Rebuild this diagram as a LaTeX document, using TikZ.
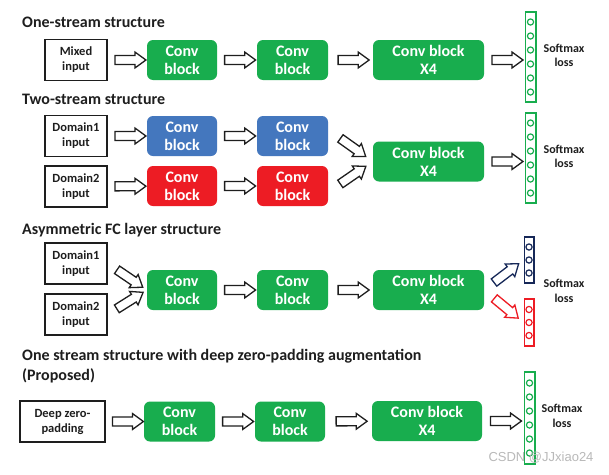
\documentclass[tikz,border=0pt]{standalone}
\usepackage{fontspec}
\setmainfont{Carlito}
\newfontfamily\wmfont{Liberation Sans}
\usetikzlibrary{shapes.arrows}
\definecolor{convgreen}{RGB}{24,173,78}
\definecolor{convblue}{RGB}{68,119,190}
\definecolor{convred}{RGB}{237,28,36}
\definecolor{fcnavy}{RGB}{22,40,88}
\definecolor{txt}{RGB}{30,30,30}
\tikzset{
  titel/.style={anchor=west, inner sep=0pt, text=txt, align=left,
    font=\bfseries\fontsize{16}{20}\selectfont},
  inbox/.style={draw=txt, line width=1.6pt, fill=white, minimum width=62pt,
    minimum height=41pt, inner sep=0pt, align=center, text=txt,
    font=\bfseries\fontsize{12.5}{15}\selectfont},
  conv/.style={fill=#1, rounded corners=6pt, minimum height=40pt, inner sep=0pt,
    align=center, text=white, font=\bfseries\fontsize{16}{18}\selectfont},
  fat/.style={single arrow, draw=txt, fill=white, line width=1.3pt,
    minimum height=31pt, minimum width=0pt, inner xsep=0pt, inner ysep=3.9pt,
    single arrow head extend=3.4pt, single arrow tip angle=72, sloped},
  fc/.style={draw=#1, line width=1.5pt, fill=white, minimum width=10.5pt, inner sep=0pt},
  neuron/.style={draw=#1, line width=1.2pt, fill=white},
  softmax/.style={text=txt, align=center, font=\bfseries\fontsize{12}{14.5}\selectfont}
}

\begin{document}
\begin{tikzpicture}[x=1pt, y=-1pt]

    \path[use as bounding box, fill=white] (0,0) rectangle (609,474);

    %One-stream
    \node[titel] (t1) at (22,22) {One-stream structure};
    \node[inbox] (in1) at (76,60) {Mixed\\input};
    \node[conv=convgreen, minimum width=70pt] (c11) at (182,60) {Conv\\block};
    \node[conv=convgreen, minimum width=71pt] (c12) at (292.5,60) {Conv\\block};
    \node[conv=convgreen, minimum width=111pt] (x1) at (428.5,60) {Conv block\\X4};
    \node[fc=convgreen, minimum height=90pt] (s1) at (530.5,57) {};
    \node[softmax] (l1) at (564,55.5) {Softmax\\loss};

    %Two-stream
    \node[titel] (t2) at (22,99) {Two-stream structure};
    \node[inbox] (in21) at (76,136) {Domain1\\input};
    \node[inbox] (in22) at (76,186.5) {Domain2\\input};
    \node[conv=convblue, minimum width=70pt] (b21) at (182,136) {Conv\\block};
    \node[conv=convblue, minimum width=71pt] (b22) at (292.5,136) {Conv\\block};
    \node[conv=convred, minimum width=70pt] (r21) at (182,186) {Conv\\block};
    \node[conv=convred, minimum width=71pt] (r22) at (292.5,186) {Conv\\block};
    \node[conv=convgreen, minimum width=111pt] (x2) at (428.5,161.5) {Conv block\\X4};
    \node[fc=convgreen, minimum height=90pt] (s2) at (530.5,158) {};
    \node[softmax] (l2) at (564,156.5) {Softmax\\loss};

    %Asymmetric FC
    \node[titel] (t3) at (22,230) {Asymmetric FC layer structure};
    \node[inbox] (in31) at (76,263.5) {Domain1\\input};
    \node[inbox] (in32) at (76,314.5) {Domain2\\input};
    \node[conv=convgreen, minimum width=70pt] (c31) at (182,290) {Conv\\block};
    \node[conv=convgreen, minimum width=71pt] (c32) at (292.5,290) {Conv\\block};
    \node[conv=convgreen, minimum width=111pt] (x3) at (428.5,290) {Conv block\\X4};
    \node[fc=fcnavy, minimum width=9.5pt, minimum height=46pt] (s31) at (529,260) {};
    \node[fc=convred, minimum width=9.5pt, minimum height=47pt] (s32) at (529,322.5) {};
    \node[softmax] (l3) at (564,291) {Softmax\\loss};

    %Proposed
    \node[titel] (t4) at (22,366)
        {One stream structure with deep zero-padding augmentation\\(Proposed)};
    \node[inbox, minimum width=85pt] (in4) at (62.5,421.5) {Deep zero-\\padding};
    \node[conv=convgreen, minimum width=71pt] (c41) at (179.5,421.5) {Conv\\block};
    \node[conv=convgreen, minimum width=70pt] (c42) at (290,421.5) {Conv\\block};
    \node[conv=convgreen, minimum width=110pt] (x4) at (427,421) {Conv block\\X4};
    \node[fc=convgreen, minimum height=92pt] (s4) at (529.5,418) {};
    \node[softmax] (l4) at (562,416) {Softmax\\loss};

    %Neurons
    \foreach \b in {s1,s2,s4}
        \foreach \k in {-35,-21,-7,7,21,35}
            \draw[neuron=convgreen] ([yshift=\k pt]\b.center) circle (3.1pt);
    \foreach \k in {-13,0,13}{
        \draw[neuron=fcnavy] ([yshift=\k pt]s31.center) circle (3.1pt);
        \draw[neuron=convred] ([yshift=\k pt]s32.center) circle (3.1pt);
    }

    %Arrows
    \path (in1) -- node[fat]{} (c11);
    \path (c11) -- node[fat]{} (c12);
    \path (c12) -- node[fat]{} (x1);
    \path (x1) -- node[fat]{} (x1 -| s1.west);

    \path (in21) -- node[fat]{} (b21);
    \path (b21) -- node[fat]{} (b22);
    \path (in22) -- node[fat]{} (r21);
    \path (r21) -- node[fat]{} (r22);
    \path (b22.10) -- node[fat]{} (x2.west);
    \path (r22.-10) -- node[fat]{} (x2.west);
    \path (x2) -- node[fat]{} (x2 -| s2.west);

    \path (in31.east) -- node[fat]{} (c31.west);
    \path (in32.east) -- node[fat]{} (c31.west);
    \path (c31) -- node[fat]{} (c32);
    \path (c32) -- node[fat]{} (x3);
    \path (x3.east) -- node[fat, draw=fcnavy]{} (s31.west);
    \path (x3.east) -- node[fat, draw=convred]{} (s32.west);

    \path (in4) -- node[fat]{} (c41);
    \path (c41) -- node[fat]{} (c42);
    \path (c42) -- node[fat]{} (x4);
    \path (x4) -- node[fat]{} (x4 -| s4.west);

    %Watermark
    \node[font=\wmfont\fontsize{13}{13}\selectfont, text=gray!55] (wm) at (541,458)
        {CSDN @JJxiao24};

\end{tikzpicture}
\end{document}
